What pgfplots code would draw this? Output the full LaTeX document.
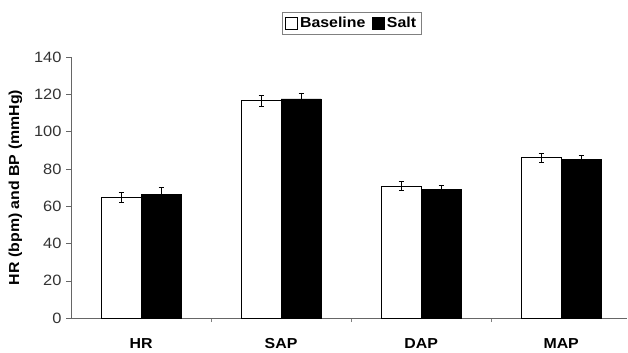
\documentclass[border=0pt]{standalone}
\usepackage{pgfplots}
\pgfplotsset{compat=1.18}
\usepackage{fontspec}
\setmainfont[FakeStretch=1.1]{Liberation Sans}
\begin{document}
\begin{tikzpicture}[x=1bp,y=1bp]
\useasboundingbox (0,0) rectangle (628,352);
\begin{axis}[
  at={(71bp,34bp)}, anchor=south west,
  scale only axis, width=556bp, height=261bp,
  ymin=0, ymax=140, ytick={0,20,...,140},
  xmin=-0.5, xmax=3.47,
  xtick={0,1,2,3}, xticklabels={HR,SAP,DAP,MAP},
  major x tick style={draw=none},
  minor xtick={0.5,1.5,2.5},
  minor x tick style={gray},
  minor tick length=4bp,
  major tick length=5bp,
  tick align=outside,
  axis x line*=bottom, axis y line*=left,
  axis line style={gray!80!black,-},
  y tick style={gray!80!black},
  ylabel={\bfseries HR (bpm) and BP (mmHg)},
  ylabel style={font=\fontsize{14.5}{16}\selectfont, yshift=5bp},
  yticklabel style={font=\fontsize{15}{17}\selectfont, text=black!80, xshift=-1bp},
  xticklabel style={font=\fontsize{14.5}{17}\selectfont\bfseries, yshift=-12bp},
  /pgf/number format/assume math mode=true,
  ybar=0pt, bar width=40bp,
  legend columns=-1,
  legend style={at={(rel axis cs:0.505,1.13)}, anchor=center, draw=gray, line width=0.8pt,
    font=\fontsize{14.5}{17}\selectfont\bfseries, inner xsep=3bp, inner ysep=3bp,
    /tikz/every even column/.append style={column sep=5bp}},
  legend image code/.code={\draw[#1, line width=0.6pt] (0bp,-6bp) rectangle (12bp,6bp);},
]
\addplot[draw=black, fill=white, line width=0.6pt,
  error bars/.cd, y dir=both, y explicit, error bar style={line width=0.7pt, black}, error mark options={rotate=90, mark size=2.5bp, line width=0.7pt}]
  coordinates {(0,64.5) +- (0,2.7) (1,116.6) +- (0,3.0) (2,70.8) +- (0,2.5) (3,86.0) +- (0,2.5)};
\addplot[draw=black, fill=black, line width=0.6pt,
  error bars/.cd, y dir=both, y explicit, error bar style={line width=0.7pt, black}, error mark options={rotate=90, mark size=2.5bp, line width=0.7pt}]
  coordinates {(0,66.4) +- (0,3.7) (1,117.5) +- (0,3.2) (2,69.0) +- (0,2.4) (3,85.0) +- (0,2.5)};
\legend{Baseline,Salt}
\end{axis}
\end{tikzpicture}
\end{document}
